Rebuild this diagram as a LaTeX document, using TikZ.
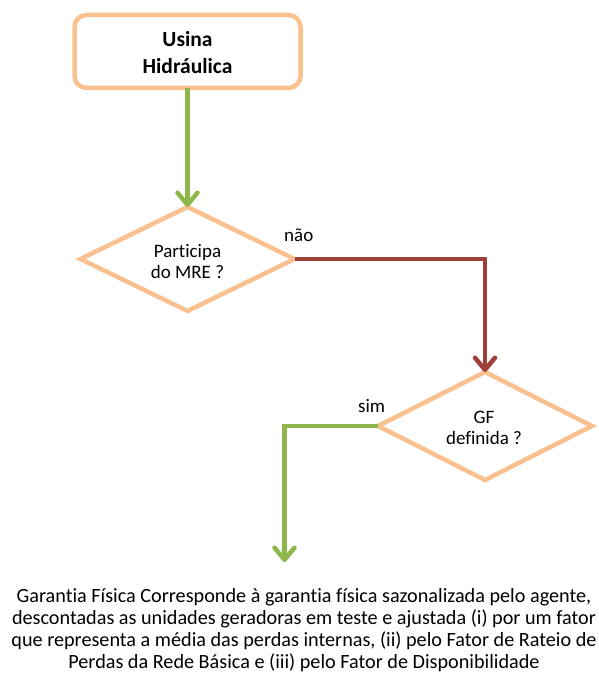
\documentclass[tikz,border=0pt]{standalone}
\usepackage{fontspec}
\setmainfont{Carlito}[Ligatures=NoCommon]
\usetikzlibrary{shapes.geometric,arrows.meta}
\definecolor{peach}{HTML}{FAC090}
\definecolor{fgreen}{HTML}{8FB64A}
\definecolor{fred}{HTML}{A03F3A}
\tikzset{
  startbox/.style={draw=peach,line width=4.5pt,rounded corners=12pt,minimum width=226pt,minimum height=73pt,inner sep=0pt,outer sep=0pt,fill=white},
  decision/.style={draw=peach,line width=4.5pt,diamond,inner sep=0pt,outer sep=0pt},
  flowarrow/.style={line width=4.5pt,-{Straight Barb[length=12pt,width=20pt,round]}},
  txt/.style={inner sep=0pt,anchor=base,font=\fontsize{19}{23}\selectfont},
  bodytxt/.style={inner sep=0pt,anchor=base,font=\fontsize{20.2}{24}\selectfont},
  boldtxt/.style={inner sep=0pt,anchor=base,font=\bfseries\fontsize{21.5}{26}\selectfont},
}
\begin{document}
\begin{tikzpicture}[x=1pt,y=-1pt]
\useasboundingbox (0,0) rectangle (598,676);
% start box
\node[startbox] (box) at (187.5,51.5) {};
\node[boldtxt] (boxt1) at (187.5,47) {Usina};
\node[boldtxt] (boxt2) at (187.5,74) {Hidráulica};
% decision 1
\node[decision,minimum width=214pt,minimum height=104pt] (d1) at (187.5,259) {};
\node[txt] (d1t1) at (187.5,257) {Participa};
\node[txt] (d1t2) at (187.5,278) {do MRE ?};
% decision 2
\node[decision,minimum width=214pt,minimum height=108pt] (d2) at (485,426) {};
\node[txt] (d2t1) at (484,423) {GF};
\node[txt] (d2t2) at (484,444) {definida ?};
% labels
\node[txt,anchor=base west] (nao) at (284,241) {não};
\node[txt,anchor=base west] (sim) at (358,412) {sim};
% end coordinate
\coordinate (gfend) at (284.5,562);
% connectors
\draw[flowarrow,draw=fgreen] (box.south) -- (d1.north);
\draw[flowarrow,draw=fred] (d1.east) -| (d2.north);
\draw[flowarrow,draw=fgreen] (d2.west) -| (gfend);
% bottom text
\node[bodytxt] (b1) at (304,602) {Garantia Física Corresponde à garantia física sazonalizada pelo agente,};
\node[bodytxt] (b2) at (304,624) {descontadas as unidades geradoras em teste e ajustada (i) por um fator};
\node[bodytxt] (b3) at (304,646) {que representa a média das perdas internas, (ii) pelo Fator de Rateio de};
\node[bodytxt] (b4) at (304,668) {Perdas da Rede Básica e (iii) pelo Fator de Disponibilidade};
\end{tikzpicture}
\end{document}
